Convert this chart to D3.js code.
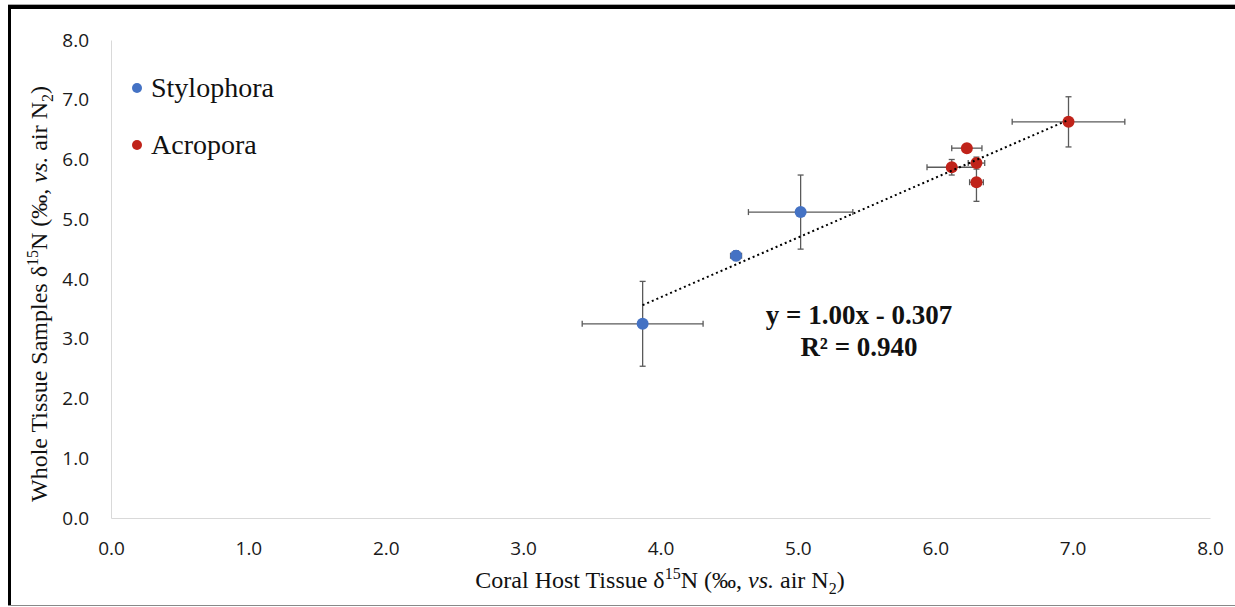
<!DOCTYPE html>
<html>
<head>
<meta charset="utf-8">
<script src="https://cdn.jsdelivr.net/npm/d3@7"></script>
<style>
  html, body { margin: 0; padding: 0; background: #fff; }
  svg { display: block; }
  .tick text { font-family: "Open Sans", "Noto Sans", sans-serif; font-size: 19px; fill: #1a1a1a; }
  .title { font-family: "Liberation Serif", "Times New Roman", serif; font-size: 24px; fill: #111; }
</style>
</head>
<body>
<div id="chart"></div>
<script>
// values
const xTicks = [0, 1, 2, 3, 4, 5, 6, 7, 8];
const yTicks = [0, 1, 2, 3, 4, 5, 6, 7, 8];

const stylX    = [3.87, 4.55, 5.02];
const stylY    = [3.25, 4.39, 5.12];
const stylXErr = [0.44, 0.04, 0.38];
const stylYErr = [0.71, 0.08, 0.62];

const acroX    = [6.23, 6.12, 6.30, 6.30, 6.97];
const acroY    = [6.19, 5.87, 5.94, 5.62, 6.63];
const acroXErr = [0.11, 0.18, 0.06, 0.05, 0.41];
const acroYErr = [0.03, 0.13, 0.10, 0.32, 0.42];

const trendSlope = 1.00;
const trendIntercept = -0.307;
const eqLines = ["y = 1.00x - 0.307", "R² = 0.940"];

const seriesNames = ["Stylophora", "Acropora"];
const seriesColors = ["#4472C4", "#C0231A"];

const width = 1235, height = 607;

const svg = d3.select('#chart')
    .append('svg')
    .attr('width', width)
    .attr('height', height);

// frame around the picture
svg.append('rect').attr('x', 0).attr('y', 0).attr('width', width).attr('height', height).attr('fill', '#fff');
svg.append('line').attr('x1', 8).attr('x2', width).attr('y1', 4.5).attr('y2', 4.5).attr('stroke', '#aaa');
svg.append('rect').attr('x', 8).attr('y', 5).attr('width', width - 8).attr('height', 4).attr('fill', '#000');
svg.append('rect').attr('x', 8).attr('y', 5).attr('width', 3).attr('height', 601).attr('fill', '#000');
svg.append('line').attr('x1', 8).attr('x2', width).attr('y1', 605.5).attr('y2', 605.5).attr('stroke', '#888');

const x = d3.scaleLinear().domain([0, 8]).range([111, 1210]);
const y = d3.scaleLinear().domain([0, 8]).range([518, 40]);

// axes
svg.append('g')
    .attr('transform', `translate(0,${y(0)})`)
    .call(d3.axisBottom(x).tickValues(xTicks).tickFormat(d3.format('.1f')).tickSize(0).tickPadding(24))
    .call(g => g.select('.domain').attr('stroke', '#d9d9d9'));

svg.append('g')
    .attr('transform', `translate(${x(0)},0)`)
    .call(d3.axisLeft(y).tickValues(yTicks).tickFormat(d3.format('.1f')).tickSize(0).tickPadding(22))
    .call(g => g.select('.domain').attr('stroke', '#d9d9d9'));

// axis titles
function titleParts(sel, lead) {
    sel.append('tspan').text(lead + ' δ');
    sel.append('tspan').attr('dy', -9).attr('font-size', 16).text('15');
    sel.append('tspan').attr('dy', 9).text('N (‰, ');
    sel.append('tspan').attr('font-style', 'italic').text('vs.');
    sel.append('tspan').text(' air N');
    sel.append('tspan').attr('dy', 6).attr('font-size', 16).text('2');
    sel.append('tspan').attr('dy', -6).text(')');
}

svg.append('text')
    .attr('class', 'title')
    .attr('x', 660).attr('y', 588)
    .attr('text-anchor', 'middle')
    .call(titleParts, 'Coral Host Tissue');

svg.append('text')
    .attr('class', 'title')
    .attr('transform', 'translate(47,294) rotate(-90)')
    .attr('text-anchor', 'middle')
    .call(titleParts, 'Whole Tissue Samples');

// points with error bars
const series = [
    { name: seriesNames[0], color: seriesColors[0], pts: stylX.map((v, i) => ({ x: v, y: stylY[i], ex: stylXErr[i], ey: stylYErr[i] })) },
    { name: seriesNames[1], color: seriesColors[1], pts: acroX.map((v, i) => ({ x: v, y: acroY[i], ex: acroXErr[i], ey: acroYErr[i] })) }
];
const allPts = series.flatMap(s => s.pts);
const cap = 3;

const err = svg.append('g').attr('stroke', '#5a5a5a').attr('stroke-width', 1.3);
allPts.forEach(p => {
    err.append('line').attr('x1', x(p.x - p.ex)).attr('x2', x(p.x + p.ex)).attr('y1', y(p.y)).attr('y2', y(p.y));
    err.append('line').attr('x1', x(p.x - p.ex)).attr('x2', x(p.x - p.ex)).attr('y1', y(p.y) - cap).attr('y2', y(p.y) + cap);
    err.append('line').attr('x1', x(p.x + p.ex)).attr('x2', x(p.x + p.ex)).attr('y1', y(p.y) - cap).attr('y2', y(p.y) + cap);
    err.append('line').attr('x1', x(p.x)).attr('x2', x(p.x)).attr('y1', y(p.y - p.ey)).attr('y2', y(p.y + p.ey));
    err.append('line').attr('x1', x(p.x) - cap).attr('x2', x(p.x) + cap).attr('y1', y(p.y - p.ey)).attr('y2', y(p.y - p.ey));
    err.append('line').attr('x1', x(p.x) - cap).attr('x2', x(p.x) + cap).attr('y1', y(p.y + p.ey)).attr('y2', y(p.y + p.ey));
});

series.forEach(s => {
    svg.append('g')
        .selectAll('circle')
        .data(s.pts)
        .join('circle')
        .attr('cx', d => x(d.x))
        .attr('cy', d => y(d.y))
        .attr('r', 6)
        .attr('fill', s.color);
});

// linear trendline over the data range
const xExt = d3.extent(allPts, d => d.x);
svg.append('line')
    .attr('x1', x(xExt[0])).attr('y1', y(trendSlope * xExt[0] + trendIntercept))
    .attr('x2', x(xExt[1])).attr('y2', y(trendSlope * xExt[1] + trendIntercept))
    .attr('stroke', '#000')
    .attr('stroke-width', 2)
    .attr('stroke-dasharray', '2,3');

// equation
svg.append('g')
    .selectAll('text')
    .data(eqLines)
    .join('text')
    .attr('x', 859)
    .attr('y', (d, i) => 324 + i * 32)
    .attr('text-anchor', 'middle')
    .attr('font-family', '"Liberation Serif", "Times New Roman", serif')
    .attr('font-weight', 'bold')
    .attr('font-size', 27)
    .attr('fill', '#111')
    .text(d => d);

// legend
const legend = svg.append('g')
    .selectAll('g')
    .data(series)
    .join('g')
    .attr('transform', (d, i) => `translate(137,${88 + i * 57})`);
legend.append('circle').attr('r', 5).attr('fill', d => d.color);
legend.append('text')
    .attr('x', 14)
    .attr('y', 9)
    .attr('font-family', '"Liberation Serif", "Times New Roman", serif')
    .attr('font-size', 28)
    .attr('fill', '#111')
    .text(d => d.name);
</script>
</body>
</html>
